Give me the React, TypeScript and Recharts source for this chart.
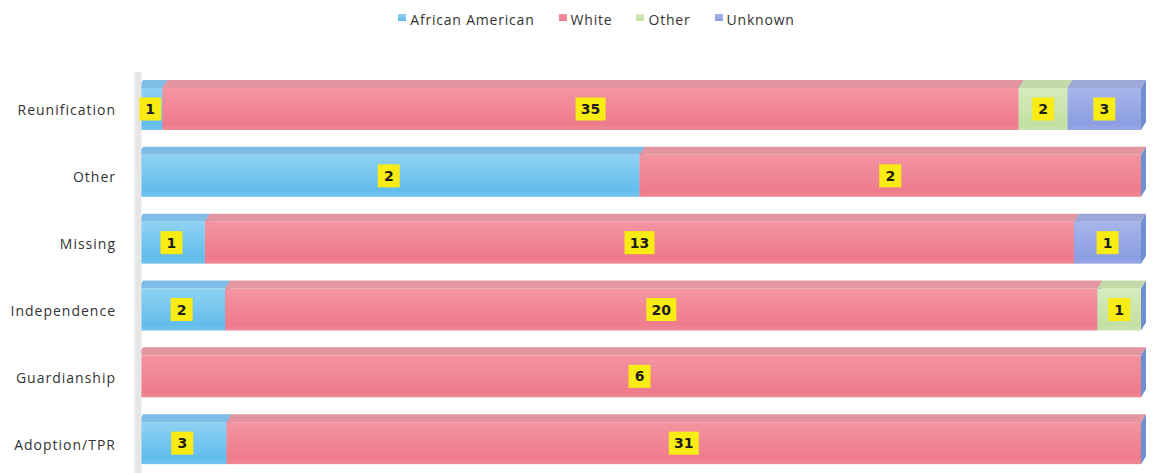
import { Bar, BarChart, LabelList, XAxis, YAxis } from "recharts";

const categories = ["Reunification", "Other", "Missing", "Independence", "Guardianship", "Adoption/TPR"];
const africanAmerican = [1, 2, 1, 2, 0, 3];
const white = [35, 2, 13, 20, 6, 31];
const other = [2, 0, 0, 1, 0, 0];
const unknown = [3, 0, 1, 0, 0, 0];

const seriesNames = ["African American", "White", "Other", "Unknown"];

const data = categories.map((name, i) => ({
  name,
  aa: africanAmerican[i],
  white: white[i],
  other: other[i],
  unknown: unknown[i],
}));

const series = [
  { key: "aa", name: seriesNames[0], front: "#62bdeb", light: "#8fd2f3", top: "#7fbde6" },
  { key: "white", name: seriesNames[1], front: "#ee7b8b", light: "#f495a2", top: "#e3969f" },
  { key: "other", name: seriesNames[2], front: "#c3e0a3", light: "#d6ebbd", top: "#c2d9aa" },
  { key: "unknown", name: seriesNames[3], front: "#8c9ee2", light: "#a7b5ea", top: "#9ca8d8" },
];

const FONT = "'Open Sans', 'DejaVu Sans', sans-serif";

const makeShape = (s: (typeof series)[number]) => (props: any) => {
  const { x, y, width, height } = props;
  if (!width || width <= 0.5) return null;
  const dv = 8;
  const dx = 5;
  return (
    <g>
      <polygon
        points={`${x},${y + dv} ${x + dx},${y} ${x + width + dx},${y} ${x + width},${y + dv}`}
        fill={s.top}
      />
      <polygon
        points={`${x + width},${y + dv} ${x + width + dx},${y} ${x + width + dx},${y + height - dv} ${x + width},${y + height}`}
        fill="#6f8fd0"
      />
      <rect x={x} y={y + dv} width={width} height={height - dv} fill={`url(#grad-${s.key})`} />
    </g>
  );
};

const renderLabel = (props: any) => {
  const { x, y, width, height, value } = props;
  if (!value) return null;
  const txt = String(value);
  const w = txt.length > 1 ? 30 : 22;
  const h = 23;
  const cx = x + width / 2;
  const cy = y + 8 + (height - 8) / 2;
  return (
    <g>
      <rect x={cx - w / 2} y={cy - h / 2} width={w} height={h} fill="#f8ec14" />
      <text
        x={cx}
        y={cy + 1}
        textAnchor="middle"
        dominantBaseline="middle"
        fontFamily="'DejaVu Sans', sans-serif"
        fontWeight="bold"
        fontSize={14}
        fill="#1c1c1c"
      >
        {txt}
      </text>
    </g>
  );
};

const App = () => {
  return (
    <div style={{ position: "fixed", left: 0, top: 0, width: 1153, height: 473, background: "#fff" }}>
      <div
        style={{
          position: "absolute",
          top: 10,
          left: 0,
          width: 1153,
          display: "flex",
          justifyContent: "center",
          gap: 24,
          fontFamily: FONT,
          fontSize: 14,
          letterSpacing: 0.8,
          color: "#333",
          paddingLeft: 40,
          boxSizing: "border-box",
        }}
      >
        {series.map((s) => (
          <span key={s.key} style={{ display: "flex", alignItems: "flex-start" }}>
            <span
              style={{
                display: "inline-block",
                width: 8,
                height: 7,
                marginTop: 4,
                marginRight: 4,
                background: `linear-gradient(${s.light}, ${s.front})`,
              }}
            />
            {s.name}
          </span>
        ))}
      </div>
      <BarChart
        width={1153}
        height={473}
        data={data}
        layout="vertical"
        stackOffset="expand"
        barSize={50}
        margin={{ top: 72, right: 12, bottom: 0, left: 0 }}
      >
        <defs>
          {series.map((s) => (
            <linearGradient key={s.key} id={`grad-${s.key}`} x1="0" y1="0" x2="0" y2="1">
              <stop offset="0%" stopColor={s.light} />
              <stop offset="85%" stopColor={s.front} />
              <stop offset="100%" stopColor={s.front} stopOpacity={0.9} />
            </linearGradient>
          ))}
        </defs>
        <XAxis type="number" domain={[0, 1]} hide />
        <YAxis
          type="category"
          dataKey="name"
          width={138}
          tickLine={false}
          tickMargin={16}
          axisLine={{ stroke: "#e6e6e6", strokeWidth: 7 }}
          tick={{ fontFamily: FONT, fontSize: 14, fill: "#333", letterSpacing: 1, dy: 5 }}
        />
        {series.map((s) => (
          <Bar
            key={s.key}
            dataKey={s.key}
            name={s.name}
            stackId="a"
            fill={s.front}
            shape={makeShape(s)}
            isAnimationActive={false}
          >
            <LabelList dataKey={s.key} content={renderLabel} />
          </Bar>
        ))}
      </BarChart>
    </div>
  );
};

export default App;
